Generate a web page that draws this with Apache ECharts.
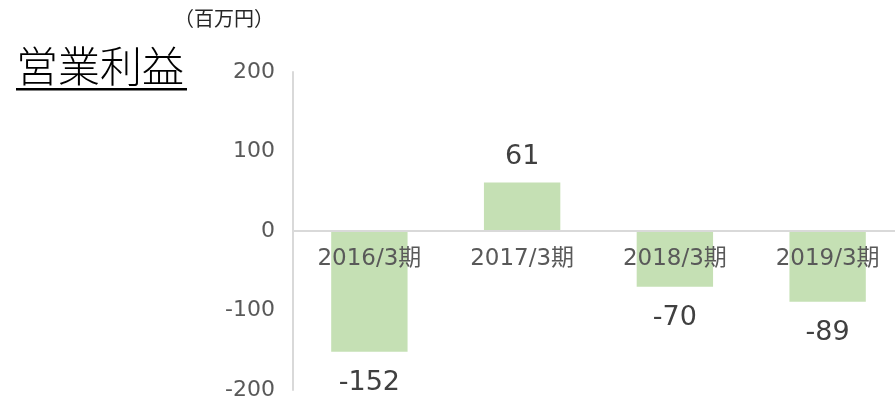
<!DOCTYPE html>
<html>
<head>
<meta charset="utf-8">
<script src="https://cdn.jsdelivr.net/npm/echarts@6/dist/echarts.min.js"></script>
<style>
  html, body { margin: 0; padding: 0; background: #fff; }
  #main { width: 895px; height: 400px; }
</style>
</head>
<body>
<div id="main"></div>
<script>
var categories = ['2016/3期', '2017/3期', '2018/3期', '2019/3期'];
var profit = [-152, 61, -70, -89];
var yTicks = [-200, 200, 100];

var font = '"DejaVu Sans", "Noto Sans CJK JP", sans-serif';
var jpFont = '"Noto Sans CJK JP", sans-serif';
var gridH = 318;
// move the category axis up to the zero line
var zeroOffset = -gridH * (0 - yTicks[0]) / (yTicks[1] - yTicks[0]);

var chart = echarts.init(document.getElementById('main'));

var barData = profit.map(function (v) {
    return {
        value: v,
        label: { position: v >= 0 ? 'top' : 'bottom', distance: v >= 0 ? 12 : 18 }
    };
});

chart.setOption({
    animation: false,
    backgroundColor: '#fff',
    textStyle: { fontFamily: font },
    graphic: [
        {
            type: 'text', left: 174, top: 8,
            style: { text: '（百万円）', font: '20px ' + jpFont, fill: '#262626' }
        },
        {
            type: 'text', left: 16, top: 45,
            style: { text: '営業利益', font: '300 42px ' + jpFont, fill: '#000' }
        },
        {
            type: 'rect', left: 16, top: 88,
            shape: { width: 171, height: 2.5 },
            style: { fill: '#000' }
        }
    ],
    grid: { left: 293, top: 72, width: 611, height: gridH, outerBoundsMode: 'none', containLabel: false },
    xAxis: {
        type: 'category',
        data: categories,
        offset: zeroOffset,
        axisLine: { onZero: false, lineStyle: { color: '#d9d9d9', width: 2 } },
        axisTick: { show: false },
        axisLabel: { color: '#595959', fontSize: 23, margin: 17, fontFamily: font },
        z: 5
    },
    yAxis: {
        type: 'value',
        min: yTicks[0],
        max: yTicks[1],
        interval: yTicks[2],
        axisLine: { show: true, lineStyle: { color: '#d9d9d9', width: 2 } },
        axisTick: { show: false },
        splitLine: { show: false },
        axisLabel: { color: '#595959', fontSize: 22, margin: 18, fontFamily: font }
    },
    series: [{
        type: 'bar',
        data: barData,
        barWidth: '50%',
        itemStyle: { color: '#c5e0b4' },
        z: 1,
        label: {
            show: true,
            fontSize: 27,
            color: '#404040',
            fontFamily: font
        }
    }]
});
</script>
</body>
</html>
